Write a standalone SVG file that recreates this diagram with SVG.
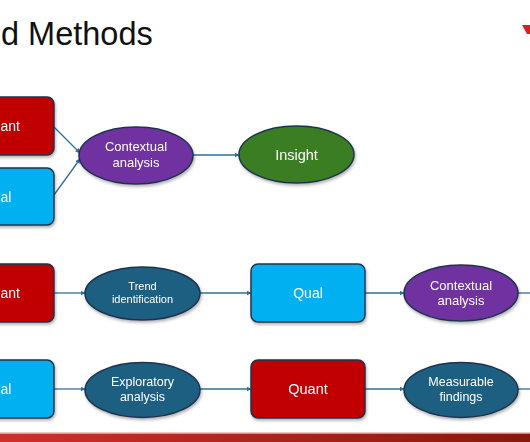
<svg xmlns="http://www.w3.org/2000/svg" width="530" height="442" viewBox="0 0 530 442">
<defs>
<style>
.box{stroke:#1F3350;stroke-width:1.5}
.ell{stroke:#1F3350;stroke-width:1.5}
.red{fill:#C00000}
.blue{fill:#00B0F0}
.purple{fill:#7030A0}
.green{fill:#3B7D23}
.teal{fill:#1B5F80}
.lbl{fill:#FFFFFF;font-family:"Liberation Sans",Arial,sans-serif;text-anchor:middle}
.lbls{fill:#FFFFFF;font-family:"Liberation Sans",Arial,sans-serif;text-anchor:start}
.con{stroke:#2F6F9A;stroke-width:1.3;fill:none;marker-end:url(#arr)}
.title{font-family:"Liberation Sans",Arial,sans-serif;font-size:32.5px;fill:#111111}
</style>
<marker id="arr" viewBox="0 0 10 10" refX="9" refY="5" markerWidth="5" markerHeight="5" orient="auto" markerUnits="userSpaceOnUse">
<path d="M0,0 L10,5 L0,10 z" fill="#2F6F9A"/>
</marker>
<filter id="sh" x="-20%" y="-20%" width="140%" height="150%">
<feDropShadow dx="1" dy="2" stdDeviation="1.5" flood-color="#000000" flood-opacity="0.3"/>
</filter>
<linearGradient id="bar" x1="0" y1="0" x2="1" y2="0">
<stop offset="0" stop-color="#D0302A"/>
<stop offset="1" stop-color="#8A170C"/>
</linearGradient>
</defs>
<rect width="530" height="442" fill="#FFFFFF"/>
<text class="title" x="1" y="45">d Methods</text>
<polygon points="522,25 530,25 530,34 527,34" fill="#D42020"/>

<g id="connectors">
<line class="con" x1="54" y1="127" x2="80" y2="153"/>
<line class="con" x1="54" y1="195" x2="80" y2="159"/>
<line class="con" x1="193" y1="155" x2="239" y2="155"/>
<line class="con" x1="54" y1="293" x2="85" y2="293"/>
<line class="con" x1="200" y1="293" x2="251" y2="293"/>
<line class="con" x1="365" y1="293" x2="404" y2="293"/>
<line x1="518" y1="293" x2="530" y2="293" stroke="#2F6F9A" stroke-width="1.3"/>
<line class="con" x1="54" y1="389" x2="85" y2="389"/>
<line class="con" x1="200" y1="389" x2="251" y2="389"/>
<line class="con" x1="365" y1="389" x2="404" y2="389"/>
<line x1="518" y1="389" x2="530" y2="389" stroke="#2F6F9A" stroke-width="1.3"/>
</g>

<g id="quant1" filter="url(#sh)">
<rect class="box red" x="-60" y="97" width="114" height="58" rx="7"/>
<text class="lbls" x="0.5" y="131" font-size="14">ant</text>
</g>
<g id="qual1" filter="url(#sh)">
<rect class="box blue" x="-60" y="168" width="114" height="57" rx="7"/>
<text class="lbls" x="0.5" y="201.5" font-size="14">al</text>
</g>
<g id="context1" filter="url(#sh)">
<ellipse class="ell purple" cx="136" cy="155.5" rx="57" ry="28.5"/>
<text class="lbl" x="136" y="151" font-size="13">Contextual</text>
<text class="lbl" x="136" y="167" font-size="13">analysis</text>
</g>
<g id="insight" filter="url(#sh)">
<ellipse class="ell green" cx="296.5" cy="154.5" rx="57.5" ry="28.5"/>
<text class="lbl" x="296.5" y="160" font-size="14.5">Insight</text>
</g>

<g id="quant2" filter="url(#sh)">
<rect class="box red" x="-60" y="264" width="114" height="58" rx="7"/>
<text class="lbls" x="0.5" y="298" font-size="14">ant</text>
</g>
<g id="trend" filter="url(#sh)">
<ellipse class="ell teal" cx="142.5" cy="293.5" rx="57.5" ry="26.5"/>
<text class="lbl" x="142.5" y="290" font-size="11">Trend</text>
<text class="lbl" x="142.5" y="303" font-size="11">identification</text>
</g>
<g id="qual2" filter="url(#sh)">
<rect class="box blue" x="251" y="264" width="114" height="58" rx="7"/>
<text class="lbl" x="308" y="298" font-size="14">Qual</text>
</g>
<g id="context2" filter="url(#sh)">
<ellipse class="ell purple" cx="461" cy="293" rx="57" ry="28"/>
<text class="lbl" x="461" y="290" font-size="13">Contextual</text>
<text class="lbl" x="461" y="305" font-size="13">analysis</text>
</g>

<g id="qual3" filter="url(#sh)">
<rect class="box blue" x="-60" y="360" width="114" height="58" rx="7"/>
<text class="lbls" x="0.5" y="394" font-size="14">al</text>
</g>
<g id="exploratory" filter="url(#sh)">
<ellipse class="ell teal" cx="142.5" cy="390" rx="57.5" ry="27.5"/>
<text class="lbl" x="142.5" y="386" font-size="12.5">Exploratory</text>
<text class="lbl" x="142.5" y="401" font-size="12.5">analysis</text>
</g>
<g id="quant3" filter="url(#sh)">
<rect class="box red" x="251" y="360" width="114" height="58" rx="7"/>
<text class="lbl" x="308" y="394" font-size="14.5">Quant</text>
</g>
<g id="measurable" filter="url(#sh)">
<ellipse class="ell teal" cx="461" cy="390" rx="57" ry="27.5"/>
<text class="lbl" x="461" y="386" font-size="12.5">Measurable</text>
<text class="lbl" x="461" y="401" font-size="12.5">findings</text>
</g>

<rect x="0" y="432" width="530" height="1" fill="#F2C6C0"/>
<rect x="0" y="433.5" width="530" height="8.5" fill="url(#bar)"/>
</svg>
